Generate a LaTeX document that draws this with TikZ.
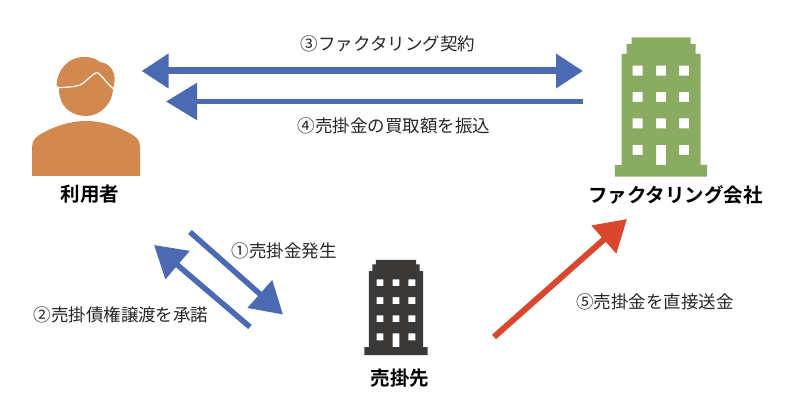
\documentclass[tikz,border=0pt]{standalone}
\usepackage{fontspec}
\usetikzlibrary{arrows.meta}
\setmainfont{Noto Sans CJK JP}[BoldFont={Noto Sans CJK JP Bold}]
\definecolor{blueA}{HTML}{4C6AB2}
\definecolor{redA}{HTML}{D9472F}
\definecolor{orangeA}{HTML}{D2884F}
\definecolor{greenA}{HTML}{8AAB62}
\definecolor{darkA}{HTML}{3B3838}
\definecolor{inkA}{HTML}{262626}
\tikzset{
  flow/.style={draw=blueA,line width=5.5pt,line cap=butt,-{Triangle[length=31pt,width=36pt]}},
  flowtwo/.style={draw=blueA,line width=7pt,{Triangle[length=27pt,width=33pt]}-{Triangle[length=27pt,width=33pt]}},
  flowred/.style={draw=redA,line width=6pt,-{Triangle[length=31pt,width=36pt]}},
  lab/.style={font=\fontsize{17.5}{20}\selectfont,text=inkA,inner sep=0pt},
  head/.style={font=\fontsize{19.5}{22}\selectfont\bfseries,text=black,inner sep=0pt},
  tower/.pic={
    \fill[pic actions,even odd rule]
      (-29.5,-69.7) -- (29.5,-69.7) -- (29.5,-63) -- (34.5,-63) -- (34.5,-53) -- (39.5,-53) -- (39.5,58) -- (46.2,58) -- (46.2,69.7) -- (-46.2,69.7) -- (-46.2,58) -- (-39.5,58) -- (-39.5,-53) -- (-34.5,-53) -- (-34.5,-63) -- (-29.5,-63) -- cycle
      (-28.5,-41.3) rectangle +(10,10) (-5,-41.3) rectangle +(10,10) (18.2,-41.3) rectangle +(10,10)
      (-28.5,-15) rectangle +(10,10) (-5,-15) rectangle +(10,10) (18.2,-15) rectangle +(10,10)
      (-28.5,11.5) rectangle +(10,10) (-5,11.5) rectangle +(10,10) (18.2,11.5) rectangle +(10,10)
      (-28.5,38) rectangle +(10,10) (18.2,38) rectangle +(10,10)
      (-5,38) rectangle (5,58);
  }
}
\begin{document}
\begin{tikzpicture}[x=1pt,y=-1pt]
\useasboundingbox (0,0) rectangle (787,406);
% person
\fill[orangeA] (32,176) -- (32,147) .. controls (32,140) and (36,137) .. (41,134)
  .. controls (55,126) and (70,121) .. (86,121) .. controls (102,121) and (117,126) .. (131,134)
  .. controls (136,137) and (140,140) .. (140,147) -- (140,176) -- cycle;
\fill[orangeA] (59,87) .. controls (59,92) and (59,95) .. (60,97)
  .. controls (62,108) and (73,116) .. (86,116) .. controls (100,116) and (113,104) .. (113,88)
  .. controls (115,84) and (115,78) .. (114,74) .. controls (112,67) and (107,63) .. (100,62)
  .. controls (95,58) and (90,57) .. (84,57) .. controls (68,57) and (57,70) .. (56.5,86) -- cycle;
\draw[white,line width=1.2pt] (57,87.5) .. controls (65,87.5) and (74,87) .. (80,85)
  .. controls (86,82) and (92,74) .. (97,72.5) .. controls (101,74) and (108,85) .. (113.5,89);
% buildings
\pic[fill=greenA] at (661,107) {tower};
\pic[fill=darkA,scale=0.684] at (396,307.5) {tower};
% texts
\node[head] (user) at (90,194) {利用者};
\node[head] (factor) at (675.5,195) {ファクタリング会社};
\node[head] (buyer) at (400,378) {売掛先};
\node[lab] (l3) at (388,44) {③ファクタリング契約};
\node[lab] (l4) at (394,126) {④売掛金の買取額を振込};
\node[lab] (l1) at (284,250.5) {①売掛金発生};
\node[lab] (l2) at (121,314.5) {②売掛債権譲渡を承諾};
\node[lab] (l5) at (655,301.5) {⑤売掛金を直接送金};
% connector ends
\coordinate (a3l) at (141.5,71);
\coordinate (a3r) at (583,71);
\coordinate (a4s) at (583,101.5);
\coordinate (a4e) at (166,101.5);
\coordinate (a1s) at (190,232);
\coordinate (a1e) at (283,314.5);
\coordinate (a2s) at (250,327);
\coordinate (a2e) at (154,245);
\coordinate (a5s) at (494,337);
\coordinate (a5e) at (627,219);
\draw[flowtwo] (a3l) -- (a3r);
\draw[flow] (a4s) -- (a4e);
\draw[flow] (a1s) -- (a1e);
\draw[flow] (a2s) -- (a2e);
\draw[flowred] (a5s) -- (a5e);
\end{tikzpicture}
\end{document}
